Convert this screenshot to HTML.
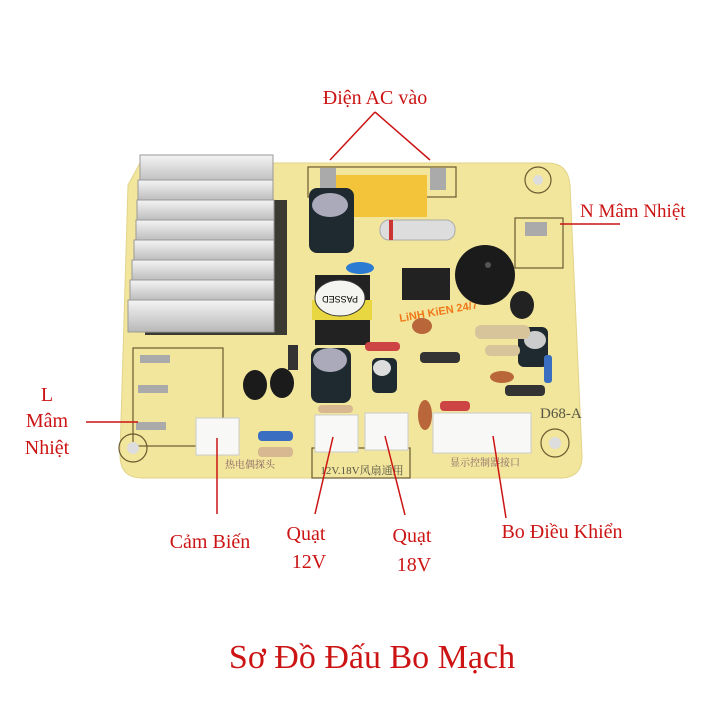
<!DOCTYPE html>
<html><head><meta charset="utf-8"><style>
html,body{margin:0;padding:0;background:#fff;width:720px;height:720px;overflow:hidden}
svg{display:block}
.r{font-family:"Liberation Serif",serif;fill:#cc1414}
</style></head><body>
<svg width="720" height="720" viewBox="0 0 720 720">
<defs>
<linearGradient id="hs" x1="0" y1="0" x2="0" y2="1"><stop offset="0" stop-color="#f4f4f4"/><stop offset="1" stop-color="#b8b8b8"/></linearGradient>
</defs>
<path d="M140,163 L548,163 Q568,163 570,185 L582,455 Q583,478 560,478 L142,478 Q120,478 120,455 L128,185 Z" fill="#f2e59c" stroke="#e2d48a"/>
<rect x="145" y="200" width="142" height="135" fill="#3a3a32"/>
<g fill="url(#hs)" stroke="#999" stroke-width="1">
<rect x="140" y="155" width="133" height="30"/>
<rect x="138" y="180" width="135" height="22"/>
<rect x="137" y="200" width="137" height="22"/>
<rect x="136" y="220" width="138" height="22"/>
<rect x="134" y="240" width="140" height="22"/>
<rect x="132" y="260" width="142" height="22"/>
<rect x="130" y="280" width="144" height="22"/>
<rect x="128" y="300" width="146" height="32"/>
</g>
<g fill="none" stroke="#6a5a30" stroke-width="1.2">
<rect x="308" y="167" width="148" height="30"/>
<rect x="515" y="218" width="48" height="50"/>
<rect x="133" y="348" width="90" height="98"/>
<rect x="312" y="448" width="98" height="30"/>
<circle cx="538" cy="180" r="13"/><circle cx="555" cy="443" r="14"/><circle cx="133" cy="448" r="14"/>
</g>
<circle cx="538" cy="180" r="5" fill="#ddd"/><circle cx="555" cy="443" r="6" fill="#ddd"/><circle cx="133" cy="448" r="6" fill="#ddd"/>
<rect x="335" y="175" width="92" height="42" fill="#f3c33a"/>
<rect x="320" y="168" width="16" height="20" fill="#aaa"/><rect x="430" y="168" width="16" height="22" fill="#aaa"/>
<rect x="525" y="222" width="22" height="14" fill="#aaa"/>
<rect x="140" y="355" width="30" height="8" fill="#aaa"/><rect x="138" y="385" width="30" height="8" fill="#aaa"/><rect x="136" y="422" width="30" height="8" fill="#aaa"/>
<rect x="309" y="188" width="45" height="65" rx="8" fill="#1f2a30"/><ellipse cx="330" cy="205" rx="18" ry="12" fill="#aab"/>
<rect x="311" y="348" width="40" height="55" rx="8" fill="#1f2a30"/><ellipse cx="330" cy="360" rx="17" ry="12" fill="#aab"/>
<rect x="372" y="358" width="25" height="35" rx="5" fill="#1f2a30"/><ellipse cx="382" cy="368" rx="9" ry="8" fill="#ddd"/>
<rect x="518" y="327" width="30" height="40" rx="6" fill="#1f2a30"/><ellipse cx="535" cy="340" rx="11" ry="9" fill="#ccc"/>
<rect x="315" y="275" width="55" height="70" fill="#222"/><rect x="312" y="300" width="60" height="20" fill="#e8d740"/>
<ellipse cx="340" cy="298" rx="25" ry="18" fill="#f4f4f0" stroke="#333"/>
<text x="340" y="296" font-size="9" text-anchor="middle" font-family="Liberation Sans,sans-serif" transform="rotate(180 340 296)">PASSED</text>
<text x="400" y="322" font-size="11" fill="#f07818" font-family="Liberation Sans,sans-serif" font-weight="bold" transform="rotate(-10 400 322)">LiNH KiEN 24/7</text>
<rect x="402" y="268" width="48" height="32" fill="#222"/>
<circle cx="485" cy="275" r="30" fill="#1b1b1b"/><circle cx="488" cy="265" r="3" fill="#555"/>
<ellipse cx="522" cy="305" rx="12" ry="14" fill="#222"/>
<rect x="380" y="220" width="75" height="20" rx="9" fill="#ddd" stroke="#aaa"/>
<rect x="389" y="220" width="4" height="20" fill="#c33"/>
<rect x="475" y="325" width="55" height="14" rx="6" fill="#d8c49a"/>
<rect x="485" y="345" width="35" height="11" rx="5" fill="#d8c49a"/>
<rect x="420" y="352" width="40" height="11" rx="4" fill="#333"/>
<rect x="505" y="385" width="40" height="11" rx="4" fill="#333"/>
<rect x="365" y="342" width="35" height="9" rx="4" fill="#c44"/>
<ellipse cx="360" cy="268" rx="14" ry="6" fill="#2a7bd1"/>
<ellipse cx="422" cy="326" rx="10" ry="8" fill="#b8663a"/>
<ellipse cx="502" cy="377" rx="12" ry="6" fill="#b8663a"/>
<ellipse cx="425" cy="415" rx="7" ry="15" fill="#b8663a"/>
<rect x="288" y="345" width="10" height="25" fill="#333"/>
<ellipse cx="255" cy="385" rx="12" ry="15" fill="#1b1b1b"/><ellipse cx="282" cy="383" rx="12" ry="15" fill="#1b1b1b"/>
<rect x="258" y="431" width="35" height="10" rx="4" fill="#3a6ec0"/><rect x="258" y="447" width="35" height="10" rx="4" fill="#d8b890"/>
<rect x="318" y="405" width="35" height="8" rx="4" fill="#d8b890"/>
<rect x="440" y="401" width="30" height="10" rx="4" fill="#c44"/>
<rect x="544" y="355" width="8" height="28" rx="3" fill="#3a6ec0"/>
<g fill="#f8f8f6" stroke="#ccc">
<rect x="196" y="418" width="43" height="37"/>
<rect x="315" y="415" width="43" height="37"/>
<rect x="365" y="413" width="43" height="37"/>
<rect x="433" y="413" width="98" height="40"/>
</g>
<text x="250" y="468" font-size="10" fill="#866" text-anchor="middle" font-family="Liberation Serif,'Noto Serif CJK SC',serif">热电偶探头</text>
<text x="362" y="474" font-size="11" fill="#554" text-anchor="middle" font-family="Liberation Serif,'Noto Serif CJK SC',serif">12V.18V风扇通用</text>
<text x="485" y="466" font-size="10" fill="#866" text-anchor="middle" font-family="Liberation Serif,'Noto Serif CJK SC',serif">显示控制器接口</text>
<text x="540" y="418" font-size="15" fill="#554" font-family="Liberation Serif,serif">D68-A</text>
<g stroke="#cc1414" stroke-width="1.5" fill="none">
<line x1="375" y1="112" x2="330" y2="160"/><line x1="375" y1="112" x2="430" y2="160"/>
<line x1="560" y1="224" x2="620" y2="224"/>
<line x1="86" y1="422" x2="138" y2="422"/>
<line x1="217" y1="438" x2="217" y2="514"/>
<line x1="333" y1="437" x2="315" y2="514"/>
<line x1="385" y1="436" x2="405" y2="515"/>
<line x1="493" y1="436" x2="506" y2="518"/>
</g>
<text class="r" x="375" y="104" font-size="20" text-anchor="middle">Điện AC vào</text>
<text class="r" x="580" y="217" font-size="19">N Mâm Nhiệt</text>
<text class="r" x="47" y="401" font-size="20" text-anchor="middle">L</text>
<text class="r" x="47" y="427" font-size="20" text-anchor="middle">Mâm</text>
<text class="r" x="47" y="454" font-size="20" text-anchor="middle">Nhiệt</text>
<text class="r" x="210" y="548" font-size="20" text-anchor="middle">Cảm Biến</text>
<text class="r" x="306" y="540" font-size="20" text-anchor="middle">Quạt</text>
<text class="r" x="309" y="568" font-size="20" text-anchor="middle">12V</text>
<text class="r" x="412" y="542" font-size="20" text-anchor="middle">Quạt</text>
<text class="r" x="414" y="571" font-size="20" text-anchor="middle">18V</text>
<text class="r" x="562" y="538" font-size="20" text-anchor="middle">Bo Điều Khiển</text>
<text class="r" x="372" y="668" font-size="34" text-anchor="middle">Sơ Đồ Đấu Bo Mạch</text>
</svg>
</body></html>
